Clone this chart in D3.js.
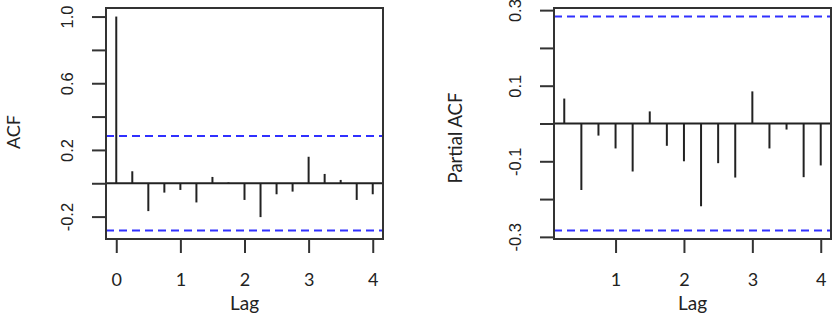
<!DOCTYPE html>
<html>
<head>
<meta charset="utf-8">
<script src="https://cdn.jsdelivr.net/npm/d3@7"></script>
<style>
  body { margin: 0; background: #fff; }
  svg { display: block; }
</style>
</head>
<body>
<div id="chart"></div>
<script>
// lags in years (quarterly data)
const acfLags = [0, 0.25, 0.5, 0.75, 1, 1.25, 1.5, 1.75, 2, 2.25, 2.5, 2.75, 3, 3.25, 3.5, 3.75, 4]
const acfValues = [1.0, 0.072, -0.167, -0.056, -0.04, -0.115, 0.038, 0.005, -0.1, -0.203, -0.066, -0.05, 0.159, 0.056, 0.02, -0.1, -0.066]
const pacfLags = [0.25, 0.5, 0.75, 1, 1.25, 1.5, 1.75, 2, 2.25, 2.5, 2.75, 3, 3.25, 3.5, 3.75, 4]
const pacfValues = [0.066, -0.176, -0.032, -0.066, -0.127, 0.032, -0.059, -0.1, -0.219, -0.105, -0.143, 0.085, -0.066, -0.016, -0.142, -0.111]
const confLimit = 0.283

const acfYTicks = [-0.2, 0, 0.2, 0.4, 0.6, 0.8, 1.0]
const acfYLabels = ['-0.2', '', '0.2', '', '0.6', '', '1.0']
const acfXTicks = [0, 1, 2, 3, 4]
const pacfYTicks = [-0.3, -0.2, -0.1, 0, 0.1, 0.2, 0.3]
const pacfYLabels = ['-0.3', '', '-0.1', '', '0.1', '', '0.3']
const pacfXTicks = [1, 2, 3, 4]

const W = 835, H = 315
const svg = d3.select('#chart').append('svg').attr('width', W).attr('height', H)

// R style padding of 4% on both ends
function pad(ext) {
    const r = (ext[1] - ext[0]) * 0.04
    return [ext[0] - r, ext[1] + r]
}

function corrPlot(opts) {
    const {lags, values, left, right, top, bottom, yTicks, yLabels, xTicks, yTitle, titleX, titleY, titleSize} = opts
    const g = svg.append('g')

    const x = d3.scaleLinear().domain(pad(d3.extent(lags))).range([left, right])
    const yExt = d3.extent(values.concat([confLimit, -confLimit]))
    const y = d3.scaleLinear().domain(pad(yExt)).range([bottom, top])

    // y axis
    const yAxis = g.append('g')
        .attr('transform', `translate(${left},0)`)
        .call(d3.axisLeft(y).tickValues(yTicks).tickSize(14).tickFormat((d, i) => yLabels[i]))
    yAxis.select('.domain').remove()
    yAxis.selectAll('line').attr('stroke', '#333').attr('stroke-width', 2)
    yAxis.selectAll('text')
        .attr('x', 0).attr('y', -33).attr('dy', 0)
        .attr('transform', 'rotate(-90)')
        .attr('text-anchor', 'middle')
        .attr('fill', '#222')
        .style('font-family', '"Liberation Sans", Arial, sans-serif')
        .style('font-size', '16.5px')

    // x axis
    const xAxis = g.append('g')
        .attr('transform', `translate(0,${bottom})`)
        .call(d3.axisBottom(x).tickValues(xTicks).tickSize(14).tickFormat(d3.format('d')))
    xAxis.select('.domain').remove()
    xAxis.selectAll('line').attr('stroke', '#333').attr('stroke-width', 2)
    xAxis.selectAll('text')
        .attr('y', 47).attr('dy', 0)
        .attr('fill', '#222')
        .style('font-family', 'Lato, "Open Sans", sans-serif')
        .style('font-size', '18px')

    // confidence limits
    g.selectAll('line.ci')
        .data([confLimit, -confLimit])
        .join('line')
        .attr('class', 'ci')
        .attr('x1', left).attr('x2', right)
        .attr('y1', d => y(d)).attr('y2', d => y(d))
        .attr('stroke', '#3030ff')
        .attr('stroke-width', 2)
        .attr('stroke-dasharray', '8,5')

    // zero line
    g.append('line')
        .attr('x1', left).attr('x2', right)
        .attr('y1', y(0)).attr('y2', y(0))
        .attr('stroke', '#222').attr('stroke-width', 2)

    // spikes
    g.selectAll('line.spike')
        .data(lags.map((l, i) => ({lag: l, v: values[i]})))
        .join('line')
        .attr('class', 'spike')
        .attr('x1', d => x(d.lag)).attr('x2', d => x(d.lag))
        .attr('y1', y(0)).attr('y2', d => y(d.v))
        .attr('stroke', '#222').attr('stroke-width', 2)

    // box
    g.append('rect')
        .attr('x', left).attr('y', top)
        .attr('width', right - left).attr('height', bottom - top)
        .attr('fill', 'none').attr('stroke', '#333').attr('stroke-width', 2)

    // titles
    g.append('text')
        .attr('x', (left + right) / 2).attr('y', 310)
        .attr('text-anchor', 'middle')
        .attr('fill', '#222')
        .style('font-family', 'Lato, "Open Sans", sans-serif')
        .style('font-size', '19px')
        .text('Lag')

    g.append('text')
        .attr('transform', `translate(${titleX},${titleY}) rotate(-90)`)
        .attr('text-anchor', 'middle')
        .attr('fill', '#222')
        .style('font-family', 'Lato, "Open Sans", sans-serif')
        .style('font-size', titleSize + 'px')
        .text(yTitle)
}

corrPlot({
    lags: acfLags, values: acfValues,
    left: 106, right: 383, top: 8, bottom: 239,
    yTicks: acfYTicks, yLabels: acfYLabels, xTicks: acfXTicks,
    yTitle: 'ACF', titleX: 19.5, titleY: 132, titleSize: 18
})

corrPlot({
    lags: pacfLags, values: pacfValues,
    left: 554, right: 831, top: 8, bottom: 239,
    yTicks: pacfYTicks, yLabels: pacfYLabels, xTicks: pacfXTicks,
    yTitle: 'Partial ACF', titleX: 462, titleY: 138, titleSize: 18.5
})
</script>
</body>
</html>
